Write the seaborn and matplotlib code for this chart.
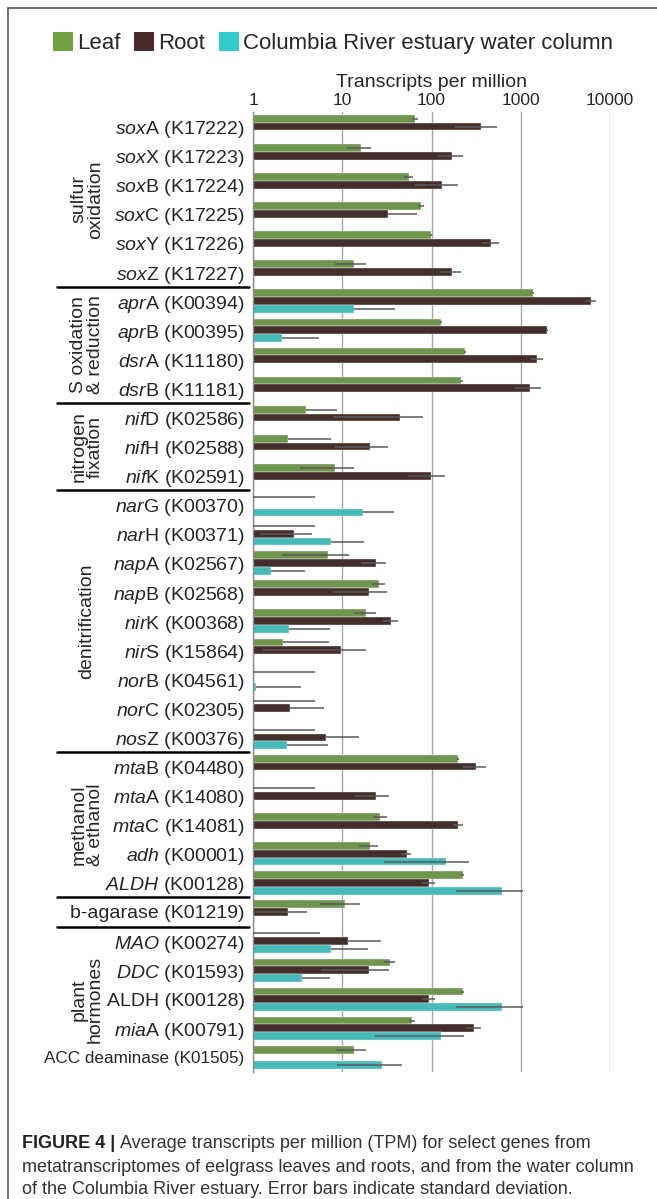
import numpy as np
import pandas as pd
import matplotlib
matplotlib.use('Agg')
import matplotlib.pyplot as plt
import seaborn as sns
from matplotlib import font_manager
from matplotlib.patches import Patch
from matplotlib.lines import Line2D

# gene labels (mathtext used for the italic part of gene names)
genes = [r'$\mathit{sox}$A (K17222)', r'$\mathit{sox}$X (K17223)', r'$\mathit{sox}$B (K17224)',
         r'$\mathit{sox}$C (K17225)', r'$\mathit{sox}$Y (K17226)', r'$\mathit{sox}$Z (K17227)',
         r'$\mathit{apr}$A (K00394)', r'$\mathit{apr}$B (K00395)', r'$\mathit{dsr}$A (K11180)',
         r'$\mathit{dsr}$B (K11181)',
         r'$\mathit{nif}$D (K02586)', r'$\mathit{nif}$H (K02588)', r'$\mathit{nif}$K (K02591)',
         r'$\mathit{nar}$G (K00370)', r'$\mathit{nar}$H (K00371)', r'$\mathit{nap}$A (K02567)',
         r'$\mathit{nap}$B (K02568)', r'$\mathit{nir}$K (K00368)', r'$\mathit{nir}$S (K15864)',
         r'$\mathit{nor}$B (K04561)', r'$\mathit{nor}$C (K02305)', r'$\mathit{nos}$Z (K00376)',
         r'$\mathit{mta}$B (K04480)', r'$\mathit{mta}$A (K14080)', r'$\mathit{mta}$C (K14081)',
         r'$\mathit{adh}$ (K00001)', r'$\mathit{ALDH}$ (K00128)',
         'b-agarase (K01219)',
         r'$\mathit{MAO}$ (K00274)', r'$\mathit{DDC}$ (K01593)', 'ALDH (K00128)',
         r'$\mathit{mia}$A (K00791)', 'ACC deaminase (K01505)']

nan = np.nan
leaf = [65, 16.2, 55.5, 75.7, 99, 13.4,
        1364, 128, 236, 216,
        3.9, 2.46, 8.4,
        0, 0, 7.0, 25.9, 18.6, 2.16, 0, 0, 0,
        198, 0, 26.8, 20.3, 223,
        10.7,
        0, 34.3, 223, 60.5, 13.6]
leaf_sd = [5, 5, 6, 6, 3, 5,
           40, 3, 5, 10,
           4.8, 5, 5,
           5, 5, 4.9, 4.5, 5, 5, 5, 5, 5,
           5, 5, 4.6, 5, 8,
           5,
           5.7, 4.7, 8, 4, 5]
root = [361, 169, 132, 32.5, 467, 169,
        6110, 1963, 1535, 1265,
        43.8, 20.3, 98,
        nan, 2.89, 23.8, 19.8, 35.4, 9.8, nan, 2.6, 6.5,
        315, 23.8, 198, 52.6, 93.8,
        2.46,
        11.5, 19.8, 93.8, 301, nan]
root_sd = [176, 55, 67, 36, 100, 46,
           900, 50, 220, 400,
           36, 12, 44,
           nan, 1.7, 7.5, 12, 7, 8.5, nan, 3.6, 9,
           90, 10, 25, 7, 15,
           1.6,
           15.5, 14, 15, 58, nan]
water = [nan, nan, nan, nan, nan, nan,
         13.6, 2.12, nan, nan,
         nan, nan, nan,
         16.9, 7.4, 1.6, nan, 2.54, nan, 1.07, nan, 2.38,
         nan, nan, nan, 145.6, 618,
         nan,
         7.4, 3.54, 618, 128, 27.7]
water_sd = [nan, nan, nan, nan, nan, nan,
            25, 3.3, nan, nan,
            nan, nan, nan,
            21, 10, 2.2, nan, 4.8, nan, 2.4, nan, 4.5,
            nan, nan, nan, 116, 430,
            nan,
            12, 3.8, 430, 105, 19]

samples = ['Leaf', 'Root', 'Columbia River estuary water column']
colors = ['#70A143', '#472B27', '#33CCCC']

groups = ['sulfur\noxidation', 'S oxidation\n& reduction', 'nitrogen\nfixation',
          'denitrification', 'methanol\n& ethanol', 'plant\nhormones']
group_centers = [2.5, 7.5, 11, 17, 24, 30]
separators = [5.5, 9.5, 12.5, 21.5, 26.5, 27.5]

caption = ['Average transcripts per million (TPM) for select genes from',
           'metatranscriptomes of eelgrass leaves and roots, and from the water column',
           'of the Columbia River estuary. Error bars indicate standard deviation.']

sns.set_style('white')
installed = {f.name for f in font_manager.fontManager.ttflist}
narrow = 'Liberation Sans Narrow' if 'Liberation Sans Narrow' in installed else 'Liberation Sans'
plt.rcParams['font.family'] = ['Liberation Sans', 'DejaVu Sans']
plt.rcParams['mathtext.fontset'] = 'custom'
plt.rcParams['mathtext.rm'] = 'Liberation Sans'
plt.rcParams['mathtext.it'] = 'Liberation Sans:italic'

vals = {'Leaf': (leaf, leaf_sd), 'Root': (root, root_sd),
        'Columbia River estuary water column': (water, water_sd)}
rows = []
for s in samples:
    v, sd = vals[s]
    for g, a, b in zip(genes, v, sd):
        rows.append({'gene': g, 'sample': s, 'tpm': a, 'sd': b})
df = pd.DataFrame(rows)
bars = df[df['tpm'] > 0]

fig = plt.figure(figsize=(6.57, 11.99), dpi=100)
ax = fig.add_axes([253 / 657, 1 - 1072 / 1199, 357 / 657, 960 / 1199])

sns.barplot(data=bars, y='gene', x='tpm', hue='sample', order=genes, hue_order=samples,
            palette=colors, orient='h', width=0.8, errorbar=None, legend=False,
            edgecolor='#f0f0f0', linewidth=0.3, ax=ax, zorder=2)
ax.set_xscale('log')
ax.set_xlim(1, 10000)
ax.set_ylim(len(genes) - 0.5, -0.5)

# error bars (Excel style: minus side dropped when it would go below zero)
step = 0.8 / 3
for i, s in enumerate(samples):
    sub = df[df['sample'] == s]
    for j, (v, sd) in enumerate(zip(sub['tpm'], sub['sd'])):
        if np.isnan(v) or np.isnan(sd):
            continue
        y = j + (i - 1) * step
        lo = max(v - sd, 1) if v - sd > 0 else max(v, 1)
        ax.plot([lo, v + sd], [y, y], color='#5a5a5a', lw=1.1, zorder=3,
                solid_capstyle='butt', clip_on=False)

ax.xaxis.tick_top()
ax.xaxis.set_label_position('top')
ax.set_xticks([1, 10, 100, 1000, 10000])
ax.set_xticklabels(['1', '10', '100', '1000', '10000'])
ax.xaxis.set_minor_locator(matplotlib.ticker.NullLocator())
ax.tick_params(axis='x', length=0, labelsize=12.5, pad=3)
ax.tick_params(axis='y', length=0, labelsize=14, pad=6)
ax.set_xlabel('Transcripts per million', fontsize=14, labelpad=4)
ax.set_ylabel('')
ax.grid(axis='x', color='#a6a6a6', lw=1, zorder=0)
ax.set_axisbelow(True)
for side in ['top', 'right', 'bottom']:
    ax.spines[side].set_visible(False)
ax.spines['left'].set_color('#8c8c8c')
ax.spines['left'].set_linewidth(1)
for lab in ax.get_yticklabels():
    if lab.get_text().startswith('ACC'):
        lab.set_family(narrow)
        if narrow == 'Liberation Sans':
            lab.set_fontsize(12.3)

tr = ax.get_yaxis_transform()
for name, c in zip(groups, group_centers):
    ax.text(-0.465, c, name, transform=tr, rotation=90, ha='center', va='center',
            fontsize=14, linespacing=0.95)
for yy in separators:
    ax.plot([-0.549, -0.01], [yy, yy], transform=tr, color='black', lw=1.8, clip_on=False)

handles = [Patch(facecolor=c, edgecolor='none') for c in colors]
fig.legend(handles, samples, loc='center', bbox_to_anchor=(333 / 657, 1 - 43 / 1199),
           ncol=3, frameon=False, fontsize=16, handlelength=0.9, handleheight=0.9,
           handletextpad=0.2, columnspacing=0.6, borderaxespad=0)

# frame
fig.add_artist(Line2D([8 / 657, 8 / 657], [0, 1 - 8 / 1199], color='#555555', lw=1.2))
fig.add_artist(Line2D([8 / 657, 1], [1 - 8 / 1199, 1 - 8 / 1199], color='#555555', lw=1.2))

# caption
fig.canvas.draw()
renderer = fig.canvas.get_renderer()
t0 = fig.text(22 / 657, 1 - 1144 / 1199, 'FIGURE 4 | ', fontsize=13, fontweight='bold',
              va='center', color='#222222')
bb = t0.get_window_extent(renderer)
fig.text(bb.x1 / fig.bbox.width, 1 - 1144 / 1199, caption[0], fontsize=13, va='center',
         color='#333333')
fig.text(22 / 657, 1 - 1167 / 1199, caption[1], fontsize=13, va='center', color='#333333')
fig.text(22 / 657, 1 - 1189 / 1199, caption[2], fontsize=13, va='center', color='#333333')

fig.savefig('out.png', dpi=100)
